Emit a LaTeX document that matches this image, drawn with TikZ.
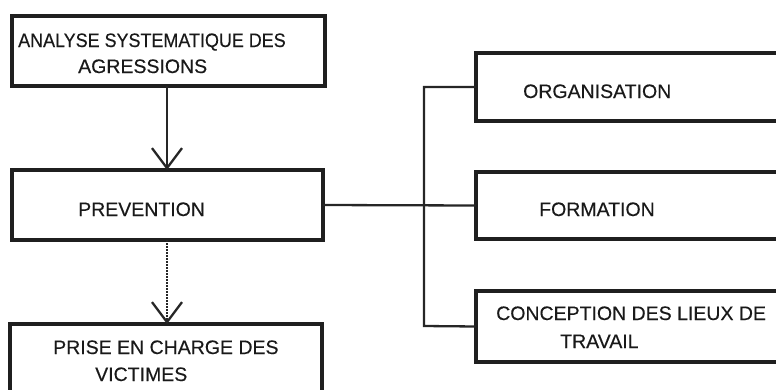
\documentclass[tikz,border=0pt]{standalone}
\usepackage{fontspec}
\setmainfont{Liberation Sans}[FakeBold=0.3]
\usetikzlibrary{arrows.meta}
\begin{document}
\begin{tikzpicture}[x=1pt,y=-1pt,
  box/.style={draw=black!88, line width=3.8pt, rectangle, inner sep=0pt, outer sep=0pt, fill=white},
  lbl/.style={anchor=base west, inner sep=0pt, font=\fontsize{19.5}{21}\selectfont, text=black!90},
  conn/.style={draw=black!85, line width=2.3pt},
  barb/.style={-{Straight Barb[length=20pt,width=30pt,line width=2.3pt]}}]
\useasboundingbox (0,0) rectangle (776,389);
\clip (0,0) rectangle (776,389);
% boxes
\node[box, minimum width=313pt, minimum height=70pt] (A) at (168.5,51) {};
\node[box, minimum width=311pt, minimum height=70pt] (P) at (167.5,205) {};
\node[box, minimum width=312pt, minimum height=96pt] (V) at (166,372) {};
\node[box, minimum width=324pt, minimum height=68pt] (O) at (638,87) {};
\node[box, minimum width=324pt, minimum height=67pt] (F) at (638,205.5) {};
\node[box, minimum width=324pt, minimum height=71pt] (C) at (638,326.5) {};
% texts
\node[lbl] (a1) at (18,47) {\scalebox{0.92}[1]{ANALYSE SYSTEMATIQUE DES}};
\node[lbl] (a2) at (78,73) {AGRESSIONS};
\node[lbl] (p1) at (78,216) {PREVENTION};
\node[lbl] (v1) at (53,354) {PRISE EN CHARGE DES};
\node[lbl] (v2) at (95,381) {VICTIMES};
\node[lbl] (o1) at (523,98) {ORGANISATION};
\node[lbl] (f1) at (539,216) {FORMATION};
\node[lbl] (c1) at (496,320) {CONCEPTION DES LIEUX DE};
\node[lbl] (c2) at (560,348) {TRAVAIL};
% connectors
\draw[conn, barb] (A.south -| 167,0) -- (P.north -| 167,0);
\draw[conn, barb, dash pattern=on 2pt off 1pt] (P.south -| 167,0) -- (V.north -| 167,0);
\coordinate (bt) at (424,87);
\coordinate (bb) at (424,326);
\draw[conn] (P.east) -- (F.west);
\draw[conn] (O.west) -- (bt) -- (bb) -- (C.west);
\end{tikzpicture}
\end{document}
